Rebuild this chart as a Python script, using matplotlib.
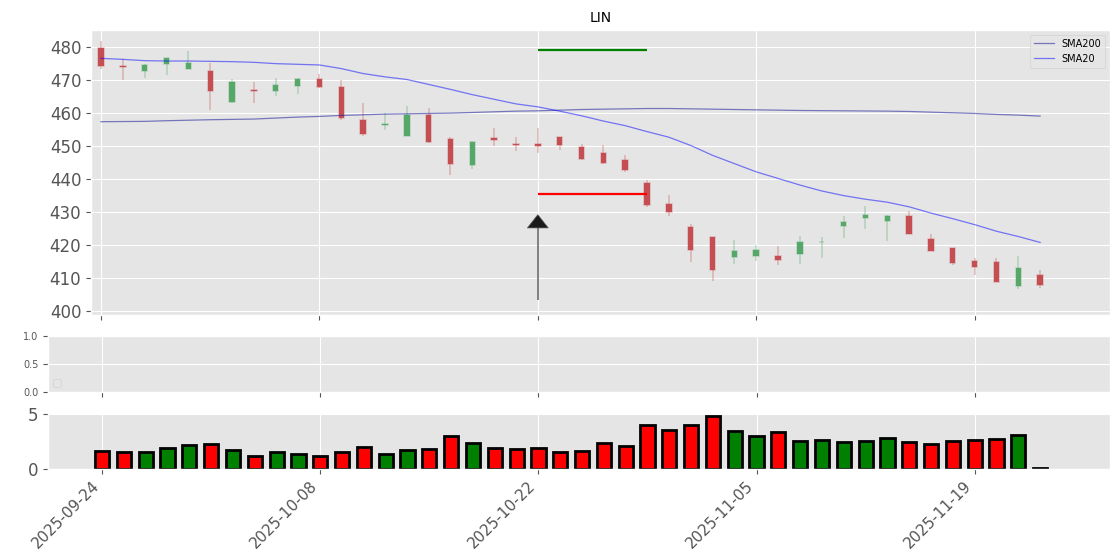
import matplotlib
matplotlib.use("Agg")
import matplotlib.pyplot as plt
import numpy as np

plt.style.use("ggplot")

tick_labels = ["2025-09-24", "2025-10-08", "2025-10-22", "2025-11-05", "2025-11-19"]
tick_pos = [0, 10, 20, 30, 40]

opens = [479.6, 474.2, 472.7, 474.8, 473.5, 472.8, 463.4, 467.0, 466.7, 468.2,
         470.3, 468.0, 458.0, 456.5, 453.2, 459.3, 452.1, 444.2, 452.6, 450.5,
         450.6, 452.7, 449.7, 447.9, 445.8, 438.9, 432.6, 425.4, 422.4, 416.4,
         416.6, 416.7, 417.2, 420.8, 425.9, 428.3, 427.4, 428.9, 421.7, 419.0,
         415.1, 414.8, 407.6, 411.0]
highs = [481.8, 476.4, 475.0, 476.8, 478.8, 475.1, 470.4, 469.5, 470.7, 470.6,
         471.9, 470.0, 463.2, 460.0, 462.3, 461.7, 452.7, 451.4, 455.5, 452.7,
         455.4, 452.8, 450.6, 450.2, 447.2, 439.7, 435.2, 426.5, 422.5, 421.4,
         420.0, 419.7, 422.9, 422.4, 428.7, 431.7, 429.2, 430.4, 423.5, 419.1,
         416.2, 416.2, 416.7, 412.4]
lows = [473.4, 470.1, 470.5, 471.5, 473.4, 461.0, 463.2, 463.1, 465.2, 465.8,
        467.6, 457.8, 453.0, 455.0, 453.1, 451.0, 441.2, 443.0, 449.9, 448.4,
        447.9, 448.7, 445.9, 444.5, 442.2, 431.4, 428.9, 414.8, 409.1, 414.2,
        415.2, 414.0, 414.2, 416.0, 422.0, 425.0, 421.2, 423.4, 418.1, 414.0,
        411.0, 408.7, 406.8, 407.0]
closes = [474.2, 474.0, 474.5, 476.6, 475.1, 466.7, 469.5, 466.8, 468.5, 470.4,
          467.8, 458.4, 453.8, 456.8, 459.3, 451.3, 444.5, 451.1, 451.8, 450.3,
          449.9, 450.2, 446.0, 444.8, 442.7, 432.2, 430.1, 418.4, 412.4, 418.1,
          418.4, 415.4, 420.9, 421.0, 426.9, 429.2, 428.9, 423.5, 418.2, 414.6,
          413.4, 408.8, 413.0, 408.0]
volumes = [1.57, 1.48, 1.48, 1.89, 2.14, 2.23, 1.67, 1.19, 1.48, 1.29,
           1.19, 1.48, 1.95, 1.29, 1.67, 1.76, 2.99, 2.33, 1.86, 1.76,
           1.86, 1.48, 1.57, 2.33, 2.04, 4.03, 3.55, 4.03, 4.87, 3.46,
           2.99, 3.36, 2.52, 2.61, 2.42, 2.52, 2.80, 2.42, 2.23, 2.52,
           2.61, 2.70, 3.08, 0.09]
sma20 = [476.6, 476.3, 475.9, 475.8, 475.8, 475.7, 475.6, 475.4, 475.0, 474.8,
         474.6, 473.5, 472.0, 471.0, 470.2, 468.7, 467.2, 465.6, 464.2, 462.8,
         461.9, 460.6, 459.2, 457.6, 456.2, 454.4, 452.7, 450.2, 447.2, 444.7,
         442.2, 440.2, 438.2, 436.4, 435.0, 433.9, 433.0, 431.6, 429.7, 428.0,
         426.2, 424.2, 422.6, 420.8]
sma200 = [457.4, 457.45, 457.5, 457.7, 457.85, 458.0, 458.1, 458.2, 458.5, 458.8,
          459.0, 459.3, 459.5, 459.7, 459.8, 459.9, 460.0, 460.2, 460.4, 460.6,
          460.7, 460.9, 461.1, 461.2, 461.3, 461.4, 461.4, 461.3, 461.2, 461.1,
          461.0, 460.9, 460.8, 460.75, 460.7, 460.65, 460.6, 460.5, 460.3, 460.1,
          459.9, 459.6, 459.4, 459.1]

signal_idx = 20
signal_end = 25
target_price = 479.0
stop_price = 435.5
arrow_from = 403.4
arrow_to = 429.2

x = np.arange(len(closes))
o = np.array(opens); c = np.array(closes)
up = c >= o
UP_C = "#55A868"
DN_C = "#C44E52"
cand_col = [UP_C if u else DN_C for u in up]

fig = plt.figure(figsize=(11.2, 5.6), dpi=100)
ax1 = fig.add_axes([91/1120, 1-315/560, 1019/1120, 285/560])
ax2 = fig.add_axes([48/1120, 1-392/560, 1062/1120, 56/560])
ax3 = fig.add_axes([48/1120, 1-468.5/560, 1062/1120, 55.5/560])

# candles
for i in range(len(x)):
    col = cand_col[i]
    ax1.vlines(x[i], lows[i], highs[i], color=col, alpha=0.3, linewidth=1.3, zorder=2)
    ax1.bar(x[i], closes[i]-opens[i], bottom=opens[i], width=0.25, color=col,
            edgecolor=matplotlib.colors.to_rgba(col, 0.3), linewidth=1.2, zorder=3)

ax1.plot(x, sma200, color="#1a1a99", alpha=0.55, linewidth=0.9, label="SMA200", zorder=4)
ax1.plot(x, sma20, color="blue", alpha=0.5, linewidth=0.9, label="SMA20", zorder=4)
ax1.hlines(target_price, signal_idx, signal_end, color="green", linewidth=1.6, zorder=5)
ax1.hlines(stop_price, signal_idx, signal_end, color="red", linewidth=1.6, zorder=5)
ax1.vlines(signal_idx, arrow_from, arrow_to - 3, color="#777777", linewidth=1.3, zorder=6)
ax1.annotate("", xy=(signal_idx, arrow_to), xytext=(signal_idx, arrow_to - 3.5),
             arrowprops=dict(facecolor="#1a1a1a", edgecolor="#555555", linewidth=0.5,
                             width=0.01, headwidth=15, headlength=9.5, shrink=0), zorder=7)
ax1.set_xlim(-0.46, 46.2)
ax1.set_ylim(398.8, 485.2)
ax1.set_yticks(np.arange(400, 481, 10))
ax1.tick_params(axis="y", labelsize=12)
ax1.set_xticks(tick_pos)
ax1.set_xticklabels([])
ax1.set_title("LIN", fontsize=10, color="black")
ax1.legend(loc="upper right", fontsize=7)

# middle panel
ax2.set_xlim(-2.48, 46.2)
ax2.set_ylim(0, 1)
ax2.set_yticks([0.0, 0.5, 1.0])
ax2.tick_params(axis="y", labelsize=7)
ax2.set_xticks(tick_pos)
ax2.set_xticklabels([])
ax2.legend(handles=[], loc="lower left", fontsize=7)

# volume
vcol = ["green" if u else "red" for u in up]
ax3.bar(x, volumes, width=0.65, color=vcol, edgecolor="black", linewidth=2)
ax3.set_xlim(-2.48, 46.2)
ax3.set_yticks([0, 5])
ax3.tick_params(axis="y", labelsize=12)
ax3.set_xticks(tick_pos)
ax3.set_xticklabels(tick_labels, rotation=45, ha="right", fontsize=11)

fig.savefig("out.png", dpi=100)
